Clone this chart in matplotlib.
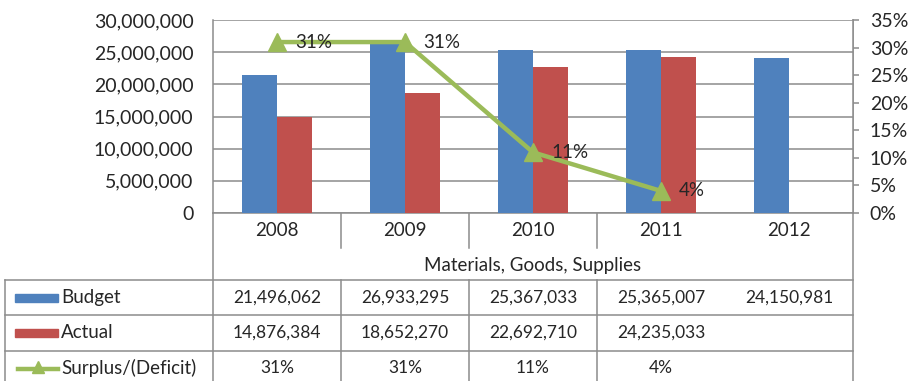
import numpy as np
import matplotlib.pyplot as plt
from matplotlib.patches import Rectangle
from matplotlib.lines import Line2D
from matplotlib.ticker import FuncFormatter, PercentFormatter

plt.rcParams['font.family'] = ['Lato', 'DejaVu Sans']

# Materials, Goods, Supplies by year
anos = ['2008', '2009', '2010', '2011', '2012']
budget = [21496062, 26933295, 25367033, 25365007, 24150981]
actual = [14876384, 18652270, 22692710, 24235033, None]
surplus = [0.31, 0.31, 0.11, 0.04]
titulo = 'Materials, Goods, Supplies'
linhas = ['Budget', 'Actual', 'Surplus/(Deficit)']

azul = '#4F81BD'
vermelho = '#C0504D'
verde = '#9BBB59'
cinza = '#8C8C8C'
texto = '#262626'

W, H = 911, 381
fig = plt.figure(figsize=(W / 100, H / 100), dpi=100)

# area do grafico em pixels
x0, x1, ytop, ybase = 213, 853, 20, 213
ax = fig.add_axes([x0 / W, 1 - ybase / H, (x1 - x0) / W, (ybase - ytop) / H])

n = len(anos)
x = np.arange(n)
larg = 0.275
ax.bar(x - larg / 2, budget, larg, color=azul, zorder=3)
act = [v if v is not None else 0 for v in actual]
ax.bar(x + larg / 2, act, larg, color=vermelho, zorder=3)

ax.set_xlim(-0.5, n - 0.5)
ax.set_ylim(0, 30000000)
ax.set_yticks(np.arange(0, 30000001, 5000000))
ax.yaxis.set_major_formatter(FuncFormatter(lambda v, p: f'{int(v):,}'))
ax.tick_params(axis='y', length=0, pad=14, labelsize=14, labelcolor=texto)
ax.set_xticks([])
ax.grid(axis='y', color=cinza, linewidth=1.1, zorder=0)
for lado in ['top', 'right']:
    ax.spines[lado].set_visible(False)
for lado in ['left', 'bottom']:
    ax.spines[lado].set_color(cinza)
    ax.spines[lado].set_linewidth(1.1)

# eixo secundario com o percentual
ax2 = ax.twinx()
ax2.plot(x[:len(surplus)], surplus, color=verde, linewidth=3.2, marker='^',
         markersize=13, zorder=5, solid_joinstyle='round')
for i, s in enumerate(surplus):
    ax2.annotate(f'{s:.0%}', (x[i], s), xytext=(13, 0), textcoords='offset points',
                 va='center', ha='left', fontsize=13.5, color=texto, zorder=7)
ax2.set_ylim(0, 0.35)
ax2.set_yticks(np.arange(0, 0.351, 0.05))
ax2.yaxis.set_major_formatter(PercentFormatter(1.0, decimals=0))
ax2.tick_params(axis='y', length=4, width=1.1, color=cinza, pad=8, labelsize=14, labelcolor=texto)
for lado in ['top', 'left', 'bottom']:
    ax2.spines[lado].set_visible(False)
ax2.spines['right'].set_color(cinza)
ax2.spines['right'].set_linewidth(1.1)

# tabela de dados abaixo do grafico
tb = fig.add_axes([0, 0, 1, 1], zorder=-1)
tb.set_xlim(0, W)
tb.set_ylim(H, 0)
tb.axis('off')

col = (x1 - x0) / n
cx = [x0 + col * (i + 0.5) for i in range(n)]
lw = 1.1

def linha(xs, ys):
    tb.add_line(Line2D(xs, ys, color=cinza, linewidth=lw))

# rotulos dos anos e separadores
for i, a in enumerate(anos):
    tb.text(cx[i], 230, a, ha='center', va='center', fontsize=13.5, color=texto)
for i in range(1, 4):
    linha([x0 + col * i] * 2, [ybase, 248])
tb.text((x0 + x1) / 2, 265, titulo, ha='center', va='center', fontsize=13.5, color=texto)

# grade da tabela
topos = [280, 315, 351]
for y in topos:
    linha([5, x1], [y, y])
linha([5, 5], [280, H])
linha([x0, x0], [ybase, H])
linha([x1, x1], [ytop, H])
for i in range(1, 4):
    linha([x0 + col * i] * 2, [280, H])

centros = [298, 333, 368]
valores = [
    [f'{v:,}' for v in budget],
    [f'{v:,}' if v is not None else '' for v in actual],
    [f'{s:.0%}' for s in surplus],
]
for r, nome in enumerate(linhas):
    yc = centros[r]
    tb.text(61, yc, nome, ha='left', va='center', fontsize=13.5, color=texto)
    for i, v in enumerate(valores[r]):
        tb.text(cx[i], yc, v, ha='center', va='center', fontsize=12.5, color=texto)

# chaves da legenda na tabela
tb.add_patch(Rectangle((15, centros[0] - 4), 43, 8, color=azul))
tb.add_patch(Rectangle((15, centros[1] - 4), 43, 8, color=vermelho))
tb.add_line(Line2D([18, 58], [centros[2] + 1] * 2, color=verde, linewidth=3.2))
tb.add_line(Line2D([38], [centros[2] - 1], color=verde, marker='^', markersize=9))

fig.savefig('out.png', dpi=100)
